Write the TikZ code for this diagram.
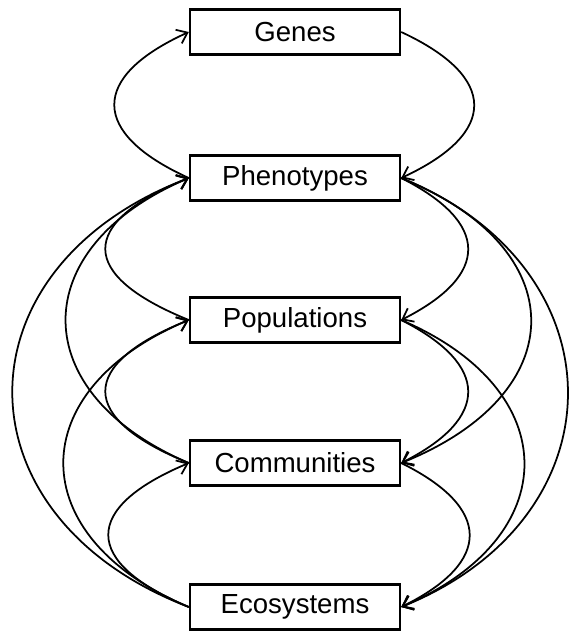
\documentclass[tikz,border=0pt]{standalone}
\usepackage{fontspec}
\setmainfont{Liberation Sans}
\usetikzlibrary{arrows.meta}

\begin{document}
\begin{tikzpicture}[x=0.02cm, y=-0.02cm,
    box/.style={draw, line width=1.4pt, minimum width=4.2cm, minimum height=0.9cm, inner sep=0pt, font=\fontsize{15.7}{18}\selectfont},
    arr/.style={-{Straight Barb[length=5.5pt,width=8.5pt]}, line width=1pt}
]
\useasboundingbox (0,0) rectangle (571,632);
\node[box] (gen) at (295,32) {Genes};
\node[box] (phe) at (295,178) {Phenotypes};
\node[box] (pop) at (295,320) {Populations};
\node[box] (com) at (295,463) {Communities};
\node[box] (eco) at (295,607) {Ecosystems};

% left side, upward
\draw[arr] (phe.west) .. controls +(-99,-45) and +(-99,45) .. (gen.west);
\draw[arr] (pop.west) .. controls +(-111,-45) and +(-111,45) .. (phe.west);
\draw[arr] (com.west) .. controls +(-164,-70) and +(-164,70) .. (phe.west);
\draw[arr] (eco.west) .. controls +(-235,-90) and +(-235,90) .. (phe.west);
\draw[arr] (com.west) .. controls +(-111,-45) and +(-111,45) .. (pop.west);
\draw[arr] (eco.west) .. controls +(-167,-70) and +(-167,70) .. (pop.west);
\draw[arr] (eco.west) .. controls +(-107,-45) and +(-107,45) .. (com.west);

% right side, downward
\draw[arr] (gen.east) .. controls +(97,45) and +(97,-45) .. (phe.east);
\draw[arr] (phe.east) .. controls +(89,45) and +(89,-45) .. (pop.east);
\draw[arr] (phe.east) .. controls +(173,70) and +(173,-70) .. (com.east);
\draw[arr] (phe.east) .. controls +(222,90) and +(222,-90) .. (eco.east);
\draw[arr] (pop.east) .. controls +(89,45) and +(89,-45) .. (com.east);
\draw[arr] (pop.east) .. controls +(164,70) and +(164,-70) .. (eco.east);
\draw[arr] (com.east) .. controls +(91,45) and +(91,-45) .. (eco.east);
\end{tikzpicture}
\end{document}
